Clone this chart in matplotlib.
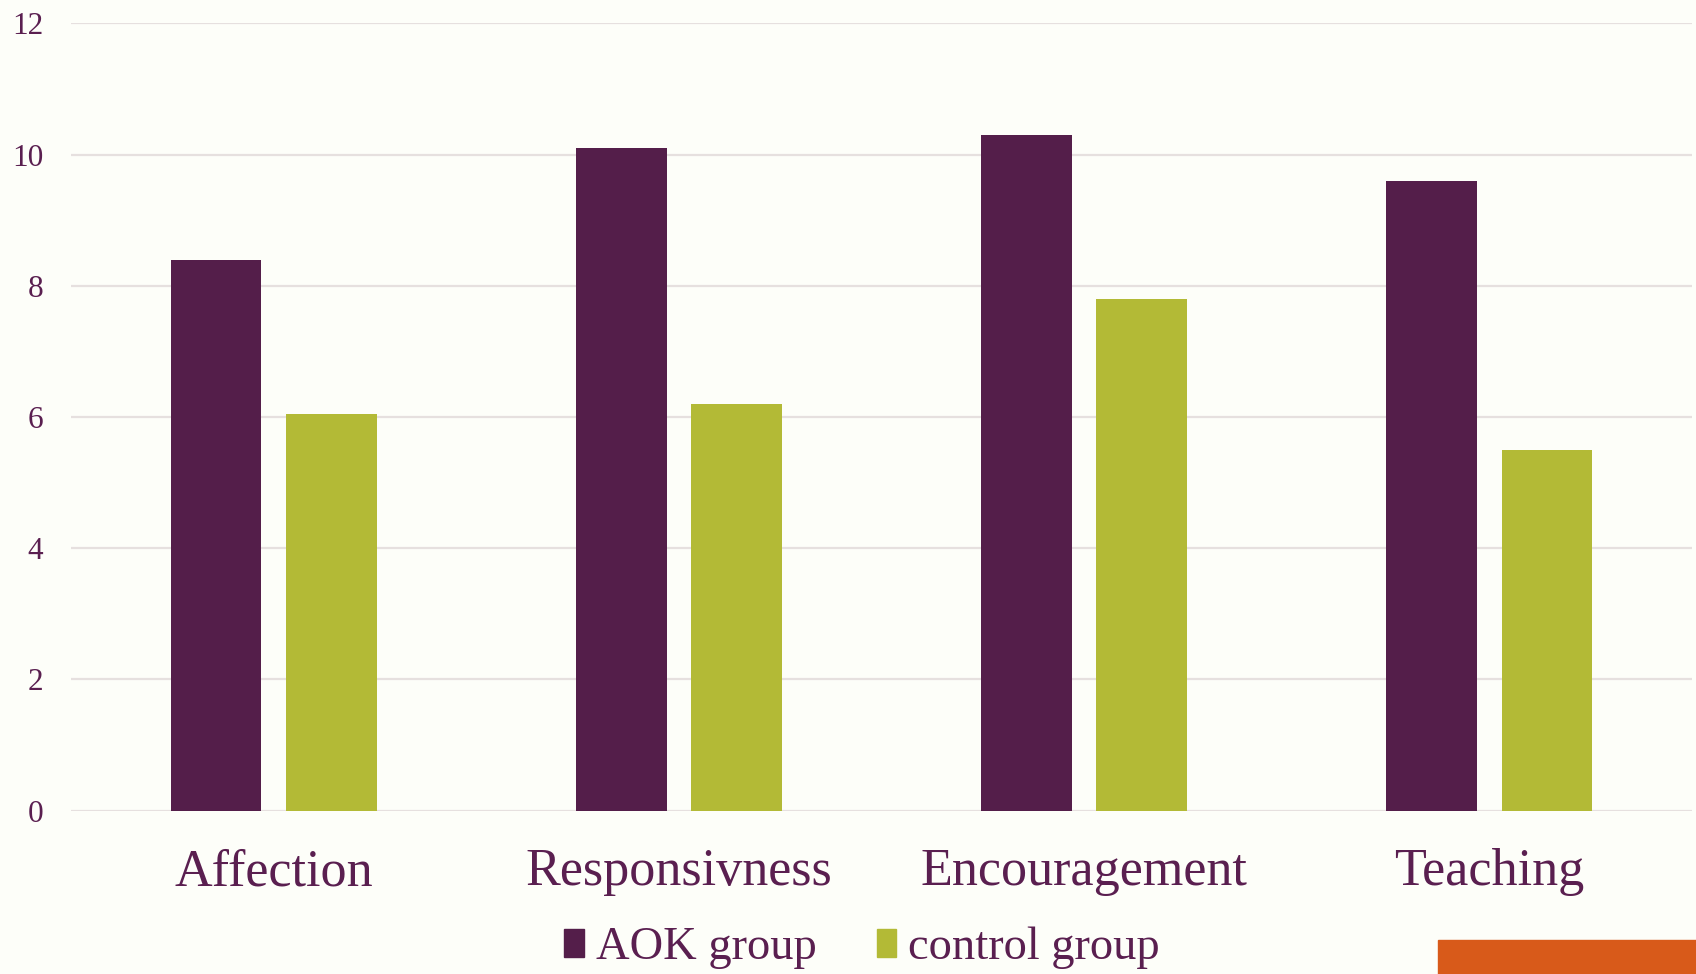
import matplotlib.pyplot as plt
import matplotlib.patches as mpatches
import numpy as np

# data
categories = ['Affection', 'Responsivness', 'Encouragement', 'Teaching']
aok_group = [8.4, 10.1, 10.3, 9.6]
control_group = [6.05, 6.2, 7.8, 5.5]
series_names = ['AOK group', 'control group']

purple = '#541E4A'
green = '#B3BA36'
text_col = '#5A1F50'
bg = '#FDFEF9'

plt.rcParams['font.family'] = ['Liberation Serif', 'DejaVu Serif']

fig = plt.figure(figsize=(16.96, 9.74), dpi=100, facecolor=bg)
ax = fig.add_axes([71 / 1696, 163.3 / 974, 1621 / 1696, 787.4 / 974])
ax.set_facecolor(bg)

x = np.arange(len(categories))
w = 0.224
off = 0.142
ax.bar(x - off, aok_group, width=w, color=purple, zorder=3)
ax.bar(x + off, control_group, width=w, color=green, zorder=3)

ax.set_xlim(-0.5, len(categories) - 0.5)
ax.set_ylim(0, 12)
ax.set_yticks(range(0, 13, 2))
ax.yaxis.grid(True, color='#E6E0DF', linewidth=1.6, zorder=0)
ax.set_xticks(x)
ax.set_xticklabels(categories, fontsize=37.5, color=text_col)
ax.tick_params(axis='x', length=0, pad=27)
ax.tick_params(axis='y', length=0, pad=20, labelsize=22.5, labelcolor=text_col)
for s in ax.spines.values():
    s.set_visible(False)

handles = [mpatches.Patch(color=purple, label=series_names[0]),
           mpatches.Patch(color=green, label=series_names[1])]
fig.legend(handles=handles, loc='center', bbox_to_anchor=(862 / 1696, 1 - 948 / 974),
           ncol=2, frameon=False, fontsize=33.5, labelcolor=text_col,
           handlelength=0.42, handleheight=0.56, handletextpad=0.25, columnspacing=1.3)

# orange block in the lower right corner
fig.patches.append(mpatches.Rectangle((1438 / 1696, 0), 1 - 1438 / 1696, 34 / 974,
                                      transform=fig.transFigure, color='#D85A1A', zorder=5))

fig.savefig('out.png', dpi=100, facecolor=bg)
